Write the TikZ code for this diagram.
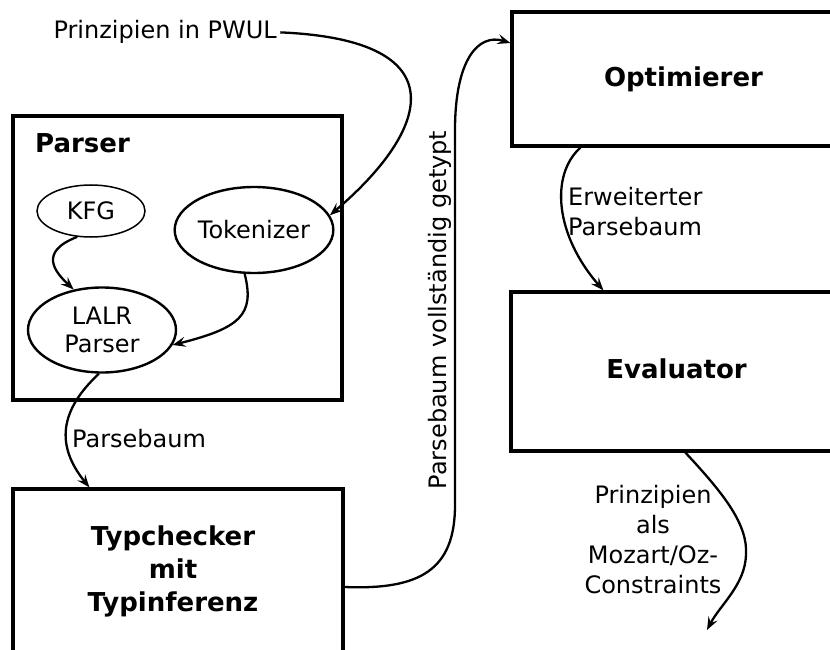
\documentclass[tikz,border=0pt]{standalone}
\usepackage{fontspec}
\setmainfont{DejaVu Sans}
\usetikzlibrary{arrows.meta,shapes.geometric}
\begin{document}
\begin{tikzpicture}[x=1pt,y=-1pt,
  reg/.style={font=\fontsize{24}{30}\selectfont},
  bld/.style={font=\fontsize{26}{33}\selectfont\bfseries},
  box/.style={draw,line width=3.2pt,rectangle,inner sep=0pt,align=center,bld},
  ell/.style={draw,line width=2.4pt,ellipse,inner sep=0pt,align=center,font=\fontsize{24}{28}\selectfont},
  conn/.style={line width=2.3pt,-{Stealth[length=13pt,width=10pt,inset=5pt]}},
]
\useasboundingbox (0,0) rectangle (830,650);
\clip (0,0) rectangle (830,650);

% boxes
\node[box,minimum width=329pt,minimum height=284pt] (parser) at (177.5,258) {};
\node[bld,anchor=base west,inner sep=0pt] (parserlabel) at (35,153) {Parser};
\node[box,minimum width=330pt,minimum height=164pt] (typ) at (178,571) {};
\node[bld,align=center,inner sep=0pt] (typtext) at (173,571) {Typchecker\\mit\\Typinferenz};
\node[box,minimum width=343pt,minimum height=134pt] (opt) at (683.5,79) {Optimierer};
\node[box,minimum width=331pt,minimum height=159pt] (eva) at (676.5,371.5) {};
\node[bld,anchor=base,inner sep=0pt] (evatext) at (676.5,378) {Evaluator};

% ellipses
\node[ell,line width=1.5pt,minimum width=108pt,minimum height=52pt] (kfg) at (91,211) {KFG};
\node[ell,minimum width=148pt,minimum height=86pt] (tok) at (254,230) {Tokenizer};
\node[ell,minimum width=148pt,minimum height=85pt] (lalr) at (102,330) {LALR\\Parser};

% texts
\node[reg,anchor=base west] (pw) at (50,39) {Prinzipien in PWUL};
\node[reg,anchor=base west,inner sep=0pt] (l1) at (72,447) {Parsebaum};
\node[reg,rotate=90,anchor=base,inner sep=0pt] (l2) at (446,310) {Parsebaum vollständig getypt};
\node[reg,align=left,anchor=north west,inner sep=0pt] (l3) at (568,187) {Erweiterter\\Parsebaum};
\node[reg,align=center,anchor=north,inner sep=0pt] (l4) at (653,485) {Prinzipien\\als\\Mozart/Oz-\\Constraints};
\coordinate (out) at (707,630);

% connectors
\draw[conn] (pw.east) .. controls (460,40) and (430,130) .. (tok.11);
\draw[conn] (kfg.-118) .. controls (38,252) and (55,272) .. (lalr.125);
\draw[conn] (tok.-102) .. controls (255,315) and (240,328) .. (lalr.-12);
\draw[conn] (lalr.-94) .. controls (60,410) and (55,445) .. ([xshift=78pt]typ.north west);
\draw[conn] ([yshift=-16pt]typ.east) .. controls (420,590) and (455,570) .. (455,505) -- (455,130) .. controls (455,60) and (478,33) .. ([yshift=36pt]opt.west);
\draw[conn] ([xshift=70pt]opt.south west) .. controls (550,175) and (555,235) .. ([xshift=94pt]eva.north west);
\draw[conn] ([xshift=176pt]eva.south west) .. controls (725,495) and (748,525) .. (746,555) .. controls (745,585) and (720,605) .. (out);
\end{tikzpicture}
\end{document}
